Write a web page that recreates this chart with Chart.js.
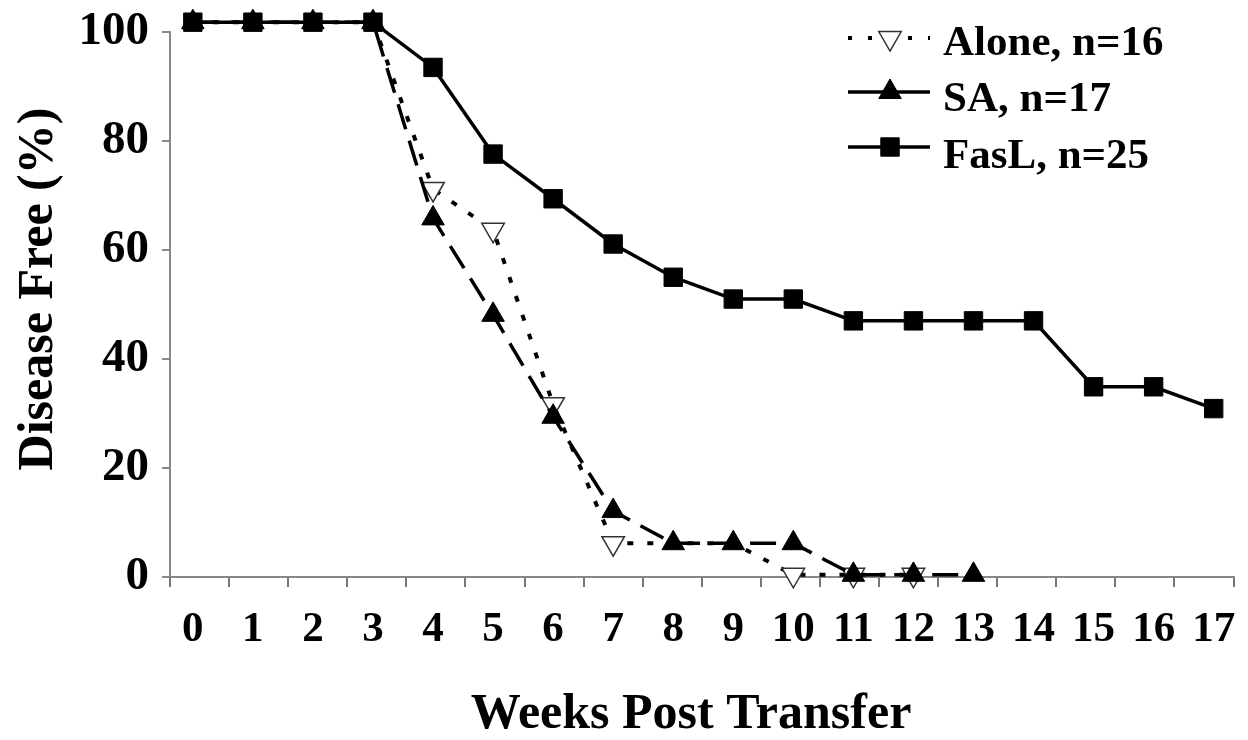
<!DOCTYPE html>
<html>
<head>
<meta charset="utf-8">
<script src="https://cdn.jsdelivr.net/npm/chart.js@4/dist/chart.umd.min.js"></script>
<style>
html,body{margin:0;padding:0;background:#fff;}
#wrap{width:1248px;height:740px;position:relative;}
</style>
</head>
<body>
<div id="wrap"><canvas id="c" width="1248" height="740"></canvas></div>
<script>
// ---- data ----
const weeks = [0,1,2,3,4,5,6,7,8,9,10,11,12,13,14,15,16,17];
const aloneValues = [101.8,101.8,101.8,101.8,71.2,63.7,31.7,6.2,6.2,6.2,0.4,0.4,0.4];
const saValues    = [101.8,101.8,101.8,101.8,65.8,48.1,29.4,12.1,6.2,6.2,6.2,0.4,0.4,0.4];
const faslValues  = [101.8,101.8,101.8,101.8,93.5,77.6,69.4,61.1,55.0,51.0,51.0,47.0,47.0,47.0,47.0,34.9,34.9,30.9];
const yTicks = [0,20,40,60,80,100];
const seriesNames = ['Alone, n=16','SA, n=17','FasL, n=25'];
const aloneHiddenMarkers = [0,1,2,3,8,9];
const xTitle = 'Weeks Post Transfer';
const yTitle = 'Disease Free (%)';

const FONT = '"Liberation Serif", "Times New Roman", Times, serif';
const toXY = arr => arr.map((v,i)=>({x: weeks[i], y: v}));

const titlesAndLegend = {
  id: 'titlesAndLegend',
  afterDraw(chart){
    const ctx = chart.ctx;
    ctx.save();
    // axis titles
    ctx.fillStyle = '#000';
    ctx.font = 'bold 50px ' + FONT;
    ctx.textAlign = 'center';
    ctx.textBaseline = 'alphabetic';
    ctx.fillText(xTitle, 691, 728);
    ctx.save();
    ctx.translate(52, 289);
    ctx.rotate(-Math.PI/2);
    ctx.fillText(yTitle, 0, 0);
    ctx.restore();

    // legend
    const rowsLine = [38, 92, 147];
    const rowsText = [55, 111, 168];
    const legendDash = [[4,16], [], []];
    chart.data.datasets.forEach((ds, i) => {
      const y = rowsLine[i];
      ctx.strokeStyle = '#000';
      ctx.lineWidth = ds.borderWidth;
      ctx.setLineDash(legendDash[i]);
      ctx.beginPath();
      ctx.moveTo(848, y);
      ctx.lineTo(930, y);
      ctx.stroke();
      ctx.setLineDash([]);
      const x = 890, r = 13;
      ctx.beginPath();
      if (ds.pointStyle === 'triangle') {
        const s = ds.pointRotation === 180 ? -1 : 1;
        ctx.moveTo(x, y - s*r);
        ctx.lineTo(x + r*Math.sin(Math.PI/3), y + s*r/2);
        ctx.lineTo(x - r*Math.sin(Math.PI/3), y + s*r/2);
        ctx.closePath();
      } else {
        const h = r*Math.SQRT1_2;
        ctx.rect(x-h, y-h, 2*h, 2*h);
      }
      ctx.fillStyle = ds.pointBackgroundColor;
      ctx.fill();
      ctx.lineWidth = ds.pointBorderWidth;
      ctx.strokeStyle = ds.pointBorderColor;
      ctx.stroke();
      ctx.fillStyle = '#000';
      ctx.font = 'bold 43px ' + FONT;
      ctx.textAlign = 'left';
      ctx.textBaseline = 'alphabetic';
      ctx.fillText(seriesNames[i], 943, rowsText[i]);
    });
    ctx.restore();
  }
};

new Chart(document.getElementById('c'), {
  type: 'line',
  data: {
    datasets: [
      {
        label: seriesNames[0],
        data: toXY(aloneValues),
        borderColor: '#000', borderWidth: 4, borderDash: [6,14],
        pointStyle: 'triangle', pointRotation: 180,
        pointRadius: c => aloneHiddenMarkers.includes(c.dataIndex) ? 0 : 13,
        pointBackgroundColor: '#fff', pointBorderColor: '#333', pointBorderWidth: 1.5,
        tension: 0, clip: false, order: 2
      },
      {
        label: seriesNames[1],
        data: toXY(saValues),
        borderColor: '#000', borderWidth: 3.5, borderDash: [26,12],
        pointStyle: 'triangle', pointRotation: 0, pointRadius: 13,
        pointBackgroundColor: '#000', pointBorderColor: '#000', pointBorderWidth: 1,
        tension: 0, clip: false, order: 0
      },
      {
        label: seriesNames[2],
        data: toXY(faslValues),
        borderColor: '#000', borderWidth: 3.5,
        pointStyle: 'rect', pointRadius: 13,
        pointBackgroundColor: '#000', pointBorderColor: '#000', pointBorderWidth: 1,
        tension: 0, clip: false, order: 1
      }
    ]
  },
  options: {
    responsive: false,
    animation: false,
    devicePixelRatio: 1,
    layout: {padding: {top: 32, left: 0, right: 0, bottom: 0}},
    plugins: {legend: {display: false}, tooltip: {enabled: false}},
    scales: {
      x: {
        type: 'linear', position: 'bottom', weight: 1,
        min: -0.38, max: 17.33,
        afterBuildTicks: s => { s.ticks = weeks.map(v => ({value: v})); },
        afterFit: s => { s.height = 151; s.paddingLeft = 0; s.paddingRight = 0; },
        grid: {display: false, drawTicks: false},
        border: {display: false},
        ticks: {
          font: {family: FONT, size: 43, weight: 'bold'}, color: '#000',
          padding: 15, maxRotation: 0, autoSkip: false,
          callback: v => String(v)
        }
      },
      xMarks: {
        type: 'linear', position: 'bottom', weight: 0,
        min: 0, max: 18,
        afterFit: s => { s.height = 12; s.paddingLeft = 0; s.paddingRight = 0; },
        ticks: {display: false, stepSize: 1},
        grid: {drawOnChartArea: false, drawTicks: true, tickLength: 10, color: '#777', lineWidth: 2},
        border: {display: true, color: '#888', width: 2}
      },
      y: {
        min: 0, max: 100,
        afterBuildTicks: s => { s.ticks = yTicks.map(v => ({value: v})); },
        afterFit: s => { s.width = 170; s.paddingTop = 0; s.paddingBottom = 0; },
        ticks: {font: {family: FONT, size: 47, weight: 'bold'}, color: '#000', padding: 13},
        grid: {drawOnChartArea: false, drawTicks: true, tickLength: 8, color: '#888', lineWidth: 2},
        border: {display: true, color: '#888', width: 2}
      }
    }
  },
  plugins: [titlesAndLegend]
});
</script>
</body>
</html>
